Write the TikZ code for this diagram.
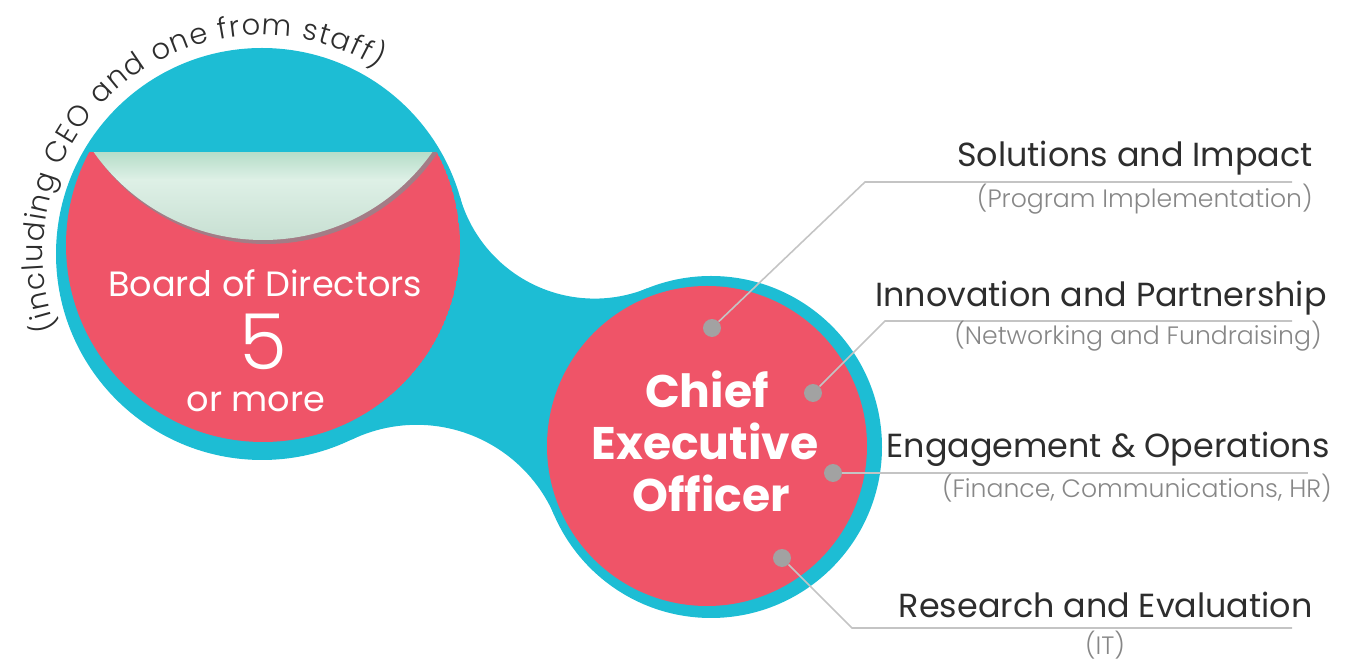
\documentclass[tikz,border=0pt]{standalone}
\usepackage{fontspec}
\setmainfont{Poppins}
\newfontfamily\lightfont{Poppins Light}
\usepackage{tikz}
\usetikzlibrary{positioning,decorations.text}
\definecolor{bdblue}{RGB}{29,189,212}
\definecolor{bdred}{RGB}{239,84,104}
\definecolor{bowltop}{RGB}{183,222,202}
\definecolor{bowllight}{RGB}{222,240,230}
\definecolor{bowlbottom}{RGB}{196,221,207}
\definecolor{bowlshadow}{RGB}{163,124,134}
\definecolor{dotgray}{RGB}{162,162,162}
\definecolor{linegray}{RGB}{196,196,196}
\definecolor{textdark}{RGB}{45,45,45}
\definecolor{textlight}{RGB}{135,135,135}
\tikzstyle{unitdot} = [circle, fill=dotgray, minimum size=10.2pt, inner sep=0pt]
\tikzstyle{leader} = [draw=linegray, line width=0.9pt]
\tikzstyle{unitlabel} = [anchor=base east, inner sep=0pt, text=textdark, font=\fontsize{19}{22}\selectfont]
\tikzstyle{unitsub} = [anchor=base east, inner sep=0pt, text=textlight, font=\lightfont\fontsize{14.3}{17}\selectfont]
\tikzstyle{boardtext} = [anchor=base, inner sep=0pt, text=white, font=\fontsize{20}{23}\selectfont]
\tikzstyle{ceotext} = [anchor=base, inner sep=0pt, text=white, font=\bfseries\fontsize{26}{30}\selectfont]

\begin{document}
\begin{tikzpicture}[x=0.02cm, y=0.02cm]
\useasboundingbox (0,0) rectangle (1347,659);

% Blue outline: two discs and the neck between them
\fill[bdblue] (460,461.8) arc[start angle=196, end angle=292, radius=140] -- (711,212)
  -- (554.2,144) arc[start angle=23.5, end angle=115.7, radius=150] -- (262,405) -- cycle;
\fill[bdblue] (262,405) circle (206);
\fill[bdblue] (711,212) circle (171);

% Board disc with the glass bowl on top
\begin{scope}
\clip (0,0) rectangle (1347,506);
\clip (263,414) circle (197);
\fill[bdred] (263,414) circle (197);
\fill[bowlshadow] (266,622) circle (207);
\begin{scope}
\clip (263,626) circle (207);
\shade[top color=bowltop, bottom color=bowllight] (90,479) rectangle (440,506);
\shade[top color=bowllight, bottom color=bowlbottom] (90,410) rectangle (440,479.5);
\end{scope}
\end{scope}

% CEO disc
\fill[bdred] (707,213) circle (160);

% Curved note round the board
\path[decorate, decoration={text along path, text align=fit to path, text color=textdark,
  text={|\lightfont\fontsize{16.5}{18}\selectfont|(including CEO and one from staff)}}]
  (262,405) ++(200:219) arc[start angle=200, end angle=58, radius=219];

% Board text
\node[boardtext] (board) at (265,362) {Board of Directors};
\node[boardtext, font=\lightfont\fontsize{44}{46}\selectfont] (five) at (263,289) {5};
\node[boardtext] (more) at (256,247) {or more};

% CEO text
\node[ceotext] (chief) at (707,251) {Chief};
\node[ceotext] (exec) at (705,199) {Executive};
\node[ceotext] (officer) at (711,147) {Officer};

% Dots and leader lines
\node[unitdot] (d1) at (712,331) {};
\node[unitdot] (d2) at (813,266) {};
\node[unitdot] (d3) at (833,186) {};
\node[unitdot] (d4) at (782,101) {};
\coordinate (k1) at (865,477);
\coordinate (e1) at (1292,477);
\coordinate (k2) at (885,338);
\coordinate (e2) at (1292,338);
\coordinate (e3) at (1308,186);
\coordinate (k4) at (852,31);
\coordinate (e4) at (1292,31);
\draw[leader] (d1) -- (k1) -- (e1);
\draw[leader] (d2) -- (k2) -- (e2);
\draw[leader] (d3) -- (e3);
\draw[leader] (d4) -- (k4) -- (e4);

% Units
\node[unitlabel] (sol) at (1313,492) {Solutions and Impact};
\node[unitsub] (solsub) at (1313,451) {(Program Implementation)};
\node[unitlabel] (inno) at (1327,352) {Innovation and Partnership};
\node[unitsub] (innosub) at (1322,314) {(Networking and Fundraising)};
\node[unitlabel] (eng) at (1330,201) {Engagement \& Operations};
\node[unitsub] (engsub) at (1332,161) {(Finance, Communications, HR)};
\node[unitlabel] (res) at (1313,41) {Research and Evaluation};
\node[unitsub, anchor=base] (ressub) at (1105,4) {(IT)};
\end{tikzpicture}
\end{document}
